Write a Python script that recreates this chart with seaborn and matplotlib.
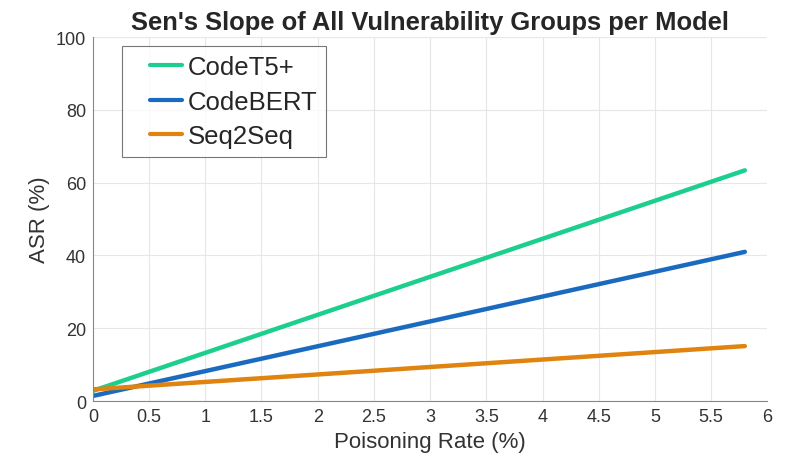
import matplotlib
matplotlib.use("Agg")
import matplotlib.pyplot as plt
import seaborn as sns
import pandas as pd

models = ["CodeT5+", "CodeBERT", "Seq2Seq"]
rates = [0.0, 5.8]
codet5_asr = [2.8, 63.4]
codebert_asr = [1.4, 41.0]
seq2seq_asr = [3.2, 15.1]
colors = ["#1ccf8f", "#1a6bbf", "#e0830f"]

df = pd.DataFrame({
    "rate": rates * 3,
    "asr": codet5_asr + codebert_asr + seq2seq_asr,
    "model": [m for m in models for _ in rates],
})

sns.set_style("white")
plt.rcParams["font.family"] = ["Liberation Sans", "DejaVu Sans"]

fig = plt.figure(figsize=(7.87, 4.6), dpi=100)
ax = fig.add_axes([0.118, 0.126, 0.857, 0.791])
sns.lineplot(data=df, x="rate", y="asr", hue="model", palette=colors,
             hue_order=models, linewidth=3.2, ax=ax)

ax.set_xlim(0, 6)
ax.set_ylim(0, 100)
ax.set_xticks([0, 0.5, 1, 1.5, 2, 2.5, 3, 3.5, 4, 4.5, 5, 5.5, 6])
ax.set_xticklabels(["0", "0.5", "1", "1.5", "2", "2.5", "3", "3.5", "4", "4.5", "5", "5.5", "6"])
ax.set_yticks([0, 20, 40, 60, 80, 100])
ax.grid(True, color="#e6e6e6", linewidth=0.8)
ax.set_axisbelow(True)
for s in ["top", "right"]:
    ax.spines[s].set_visible(False)
for s in ["left", "bottom"]:
    ax.spines[s].set_color("#888888")
    ax.spines[s].set_linewidth(0.8)
ax.tick_params(direction="in", length=4, color="#888888", labelsize=13,
               labelcolor="#333333", pad=5)
ax.set_xlabel("Poisoning Rate (%)", fontsize=16, color="#333333")
ax.set_ylabel("ASR (%)", fontsize=16, color="#333333")
ax.set_title("Sen's Slope of All Vulnerability Groups per Model",
             fontsize=18.4, fontweight="bold", pad=6)

leg = ax.legend(loc="upper left", bbox_to_anchor=(0.043, 0.975), fontsize=18.5,
                frameon=True, fancybox=False, handlelength=2.0,
                handletextpad=0.2, borderpad=0.35, labelspacing=0.4,
                borderaxespad=0)
leg.get_frame().set_edgecolor("#555555")
leg.get_frame().set_linewidth(0.8)
for line in leg.get_lines():
    line.set_linewidth(3)
    xd = list(line.get_xdata())
    yd = list(line.get_ydata())
    x0 = xd[0] + (xd[-1] - xd[0]) * 0.38
    line.set_data([x0, xd[-1]], [yd[0], yd[-1]])

fig.savefig("out.png", dpi=100)
